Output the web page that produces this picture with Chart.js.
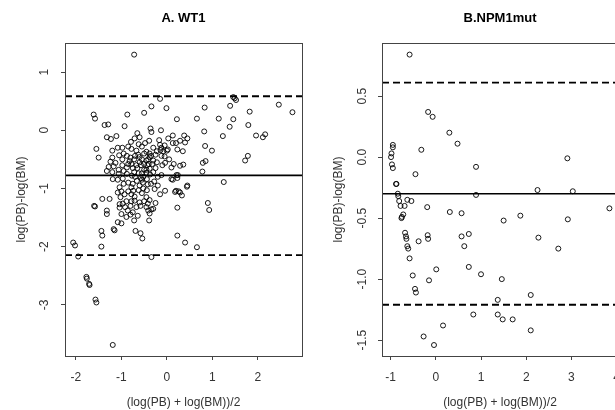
<!DOCTYPE html>
<html lang="en">
<head>
<meta charset="UTF-8">
<title>Bland-Altman: WT1 and NPM1mut</title>
<script src="https://cdn.jsdelivr.net/npm/chart.js"></script>
<style>
    html, body {
        margin: 0;
        padding: 0;
        background: #fff;
        overflow: hidden;
    }
    body {
        width: 615px;
        height: 410px;
        position: relative;
    }
    canvas {
        position: absolute;
        top: 0;
    }
    #chartA { left: 0; }
    #chartB { left: 305px; }
</style>
</head>
<body>
<canvas id="chartA" width="310" height="410"></canvas>
<canvas id="chartB" width="330" height="410"></canvas>
<script>
// A. WT1 -- x: (log(PB)+log(BM))/2, y: log(PB)-log(BM)
const wt1Avg = [
    -0.72, -0.15, -0.01, -0.34, -0.50, -0.87, -1.61, -1.58, -1.37, -1.29,
    -0.93, -1.11, -1.32, -1.23, -1.55, -1.50, -0.36, -0.34, -0.13, 0.22,
    0.83, 0.66, 0.82, 0.84, 0.99, 1.14, 1.23, 1.38, 1.39, 1.46,
    1.46, 1.49, 1.52, 1.82, 1.79, 1.96, 2.11, 2.16, 2.46, 2.76,
    1.78, 1.72, 0.85, 0.79, 0.78, 1.25, 0.90, 0.93, 0.23, -0.65,
    -0.60, -0.71, -0.79, -0.39, -0.17, 0.03, 0.13, 0.29, 0.38, 0.45,
    0.40, -0.15, -0.12, -0.05, 0.02, -0.08, -0.14, 0.00, 0.13, 0.20,
    0.23, 0.35, -0.67, -0.63, -0.60, -0.50, -0.45, -0.38, -0.38, -0.41,
    -0.35, -1.20, -1.08, -0.98, -1.05, -0.98, -1.20, -1.24, -1.13, -0.12,
    -0.04, 0.10, 0.29, 0.36, 0.21, 0.24, 0.10, 0.23, -0.82, -0.85,
    -0.78, -0.67, -0.60, -0.57, -0.50, -0.43, -0.40, -0.45, -1.28, -1.17,
    -1.06, -0.95, -0.88, -1.06, -1.20, -1.32, -0.72, -0.62, -0.52, -0.45,
    -0.37, -0.57, -0.70, -0.77, -0.12, -1.19, -1.08, -0.97, -0.66, -0.55,
    -0.44, -0.42, -0.53, -0.60, 0.13, 0.45, 0.44, -1.04, -1.08, -1.00,
    -0.93, -0.78, -0.74, -0.78, -0.71, -0.52, -0.44, -0.27, -0.04, 0.20,
    0.29, 0.33, 0.26, 0.18, -1.42, -1.26, -1.04, -1.04, -0.97, -0.89,
    -0.78, -0.71, -0.60, -0.86, -0.75, -0.64, -0.89, -1.00, -0.41, -0.38,
    -0.34, -0.39, -1.32, -1.32, -1.08, -1.00, -1.17, -1.15, -0.69, -0.58,
    -0.54, 0.23, 0.40, 0.66, -1.44, -1.42, -1.44, -2.06, -2.02, -1.95,
    -1.77, -1.76, -1.71, -1.70, -1.57, -1.55, -1.19, -0.34, -1.60, -1.58,
    -0.95, -0.88, -0.80, -0.72, -0.70, -0.55, -0.30, -0.32, -0.25, -0.22,
    -0.38, -0.45, -0.30, -0.20, -0.10, -0.28, -0.35, -0.20, -0.62, -0.55,
    -0.45, -0.38, -0.50, -0.58, -0.67, -0.80, -0.92, -1.02, -0.85, -0.95,
    -0.85, -0.75, -0.65, -0.75, -0.88, -0.98, -0.50, -0.55, -0.25, -0.30,
    -0.22, -0.55, -0.78, -0.85, -0.62, -0.48, -0.05, 0.05, 0.15, -0.15,
    -0.25, -0.30, -0.45, -0.42, -0.72, -0.80
];
const wt1Diff = [
    1.30, 0.54, 0.38, 0.41, 0.30, 0.27, 0.27, 0.20, 0.09, 0.10,
    0.07, -0.10, -0.12, -0.15, -0.32, -0.47, 0.03, -0.03, 0.00, 0.19,
    0.39, 0.20, -0.02, -0.27, -0.35, 0.20, -0.10, 0.06, 0.42, 0.19,
    0.57, 0.55, 0.52, 0.32, 0.09, -0.09, -0.12, -0.07, 0.44, 0.31,
    -0.44, -0.52, -0.53, -0.56, -0.71, -0.89, -1.25, -1.37, -1.33, -0.05,
    -0.12, -0.14, -0.20, -0.18, -0.17, -0.14, -0.09, -0.18, -0.09, -0.14,
    -0.21, -0.25, -0.30, -0.26, -0.33, -0.36, -0.34, -0.35, -0.22, -0.22,
    -0.33, -0.36, -0.35, -0.42, -0.46, -0.40, -0.37, -0.40, -0.46, -0.50,
    -0.44, -0.35, -0.30, -0.30, -0.43, -0.50, -0.47, -0.54, -0.56, -0.44,
    -0.56, -0.64, -0.61, -0.59, -0.77, -0.77, -0.84, -0.82, -0.53, -0.58,
    -0.58, -0.60, -0.55, -0.60, -0.58, -0.60, -0.58, -0.52, -0.63, -0.62,
    -0.68, -0.70, -0.75, -0.75, -0.72, -0.70, -0.72, -0.74, -0.80, -0.73,
    -0.76, -0.82, -0.80, -0.78, -0.77, -0.84, -0.85, -0.83, -0.87, -0.85,
    -0.84, -0.93, -0.90, -0.95, -0.85, -0.95, -0.97, -0.98, -1.07, -1.05,
    -1.10, -0.98, -1.04, -1.10, -1.14, -1.00, -1.03, -1.01, -1.04, -1.04,
    -1.07, -1.12, -1.05, -1.06, -1.18, -1.18, -1.27, -1.33, -1.26, -1.22,
    -1.22, -1.21, -1.24, -1.38, -1.41, -1.47, -1.49, -1.44, -1.38, -1.43,
    -1.36, -1.55, -1.38, -1.44, -1.58, -1.60, -1.70, -1.72, -1.73, -1.77,
    -1.86, -1.81, -1.93, -2.01, -1.73, -1.81, -2.00, -1.93, -1.98, -2.17,
    -2.52, -2.55, -2.64, -2.66, -2.91, -2.96, -3.69, -2.18, -1.30, -1.31,
    -0.40, -0.44, -0.47, -0.50, -0.44, -0.50, -0.52, -0.58, -0.65, -0.55,
    -0.66, -0.68, -0.72, -0.80, -0.60, -0.88, -0.92, -0.95, -1.03, -1.08,
    -1.15, -1.20, -1.22, -1.30, -1.32, -1.30, -1.32, -1.15, -1.05, -0.92,
    -0.90, -0.92, -0.65, -0.65, -0.64, -0.60, -0.68, -0.74, -0.42, -0.30,
    -0.36, -0.28, -0.32, -0.28, -0.24, -0.22, -0.45, -0.50, -0.58, -1.10,
    -1.25, -1.35, -1.32, -1.26, -1.55, -1.45
];
// mean difference, upper and lower limits of agreement
const wt1Lines = [-0.776, 0.585, -2.146];
const wt1XRange = [-2.24, 2.97];
const wt1YRange = [-3.88, 1.50];

// B. NPM1mut
const npmAvg = [
    -0.58, -0.17, -0.07, 0.30, 0.48, -0.32, 0.89, 2.91, -0.45, -0.95,
    -0.95, -0.98, -0.99, -0.97, -0.95, -0.88, -0.87, -0.84, -0.83, -0.81,
    -0.78, -0.69, -0.63, -0.54, -0.76, -0.75, -0.72, -0.68, -0.66, -0.65,
    -0.63, -0.61, -0.58, -0.38, -0.19, -0.18, -0.17, -0.51, -0.46, -0.44,
    -0.15, 0.01, 0.31, 0.57, 0.57, 0.63, 0.73, 0.73, 0.89, 1.00,
    1.50, 1.46, 1.87, 1.37, 2.10, 2.25, 2.27, 2.71, 2.92, 3.03,
    3.84, 0.83, 1.37, 1.48, 1.70, 2.10, 0.16, -0.27, -0.04
];
const npmDiff = [
    0.84, 0.37, 0.33, 0.20, 0.11, 0.06, -0.08, -0.01, -0.14, 0.10,
    0.08, 0.03, 0.00, -0.06, -0.09, -0.22, -0.22, -0.30, -0.32, -0.36,
    -0.40, -0.40, -0.35, -0.36, -0.50, -0.49, -0.47, -0.62, -0.65, -0.67,
    -0.73, -0.75, -0.83, -0.69, -0.41, -0.64, -0.67, -0.97, -1.08, -1.11,
    -1.01, -0.92, -0.45, -0.46, -0.65, -0.73, -0.63, -0.90, -0.31, -0.96,
    -0.52, -1.00, -0.48, -1.17, -1.13, -0.27, -0.66, -0.75, -0.51, -0.28,
    -0.42, -1.29, -1.29, -1.33, -1.33, -1.42, -1.38, -1.47, -1.54
];
const npmLines = [-0.30, 0.61, -1.21];
const npmXRange = [-1.19, 4.03];
const npmYRange = [-1.63, 0.935];

Chart.defaults.font.family = "'Liberation Sans', Arial, sans-serif";
Chart.defaults.font.size = 12;
Chart.defaults.color = '#333';

// R-style box around the plotting region
const boxPlugin = {
    id: 'plotBox',
    afterDatasetsDraw(chart) {
        const a = chart.chartArea;
        const ctx = chart.ctx;
        ctx.save();
        ctx.strokeStyle = '#444';
        ctx.lineWidth = 1;
        ctx.strokeRect(Math.round(a.left) + 0.5, Math.round(a.top) + 0.5,
            Math.round(a.right - a.left), Math.round(a.bottom - a.top));
        ctx.restore();
    }
};

function makePanel(id, title, xs, ys, lines, xRange, yRange, p) {
    const pts = xs.map((x, i) => ({ x: x, y: ys[i] }));
    const hline = y => [{ x: xRange[0], y: y }, { x: xRange[1], y: y }];
    const dashed = { type: 'line', borderColor: '#000', borderWidth: 1.8, borderDash: [7, 4], pointRadius: 0 };

    return new Chart(document.getElementById(id), {
        type: 'scatter',
        data: {
            datasets: [
                {
                    data: pts,
                    pointStyle: 'circle',
                    pointRadius: 2.5,
                    borderWidth: 0.9,
                    borderColor: '#000',
                    backgroundColor: 'rgba(0,0,0,0)'
                },
                { type: 'line', data: hline(lines[0]), borderColor: '#000', borderWidth: 1.6, pointRadius: 0 },
                Object.assign({ data: hline(lines[1]) }, dashed),
                Object.assign({ data: hline(lines[2]) }, dashed)
            ]
        },
        options: {
            responsive: false,
            animation: false,
            layout: { padding: { left: 0, right: p.right, top: 0, bottom: 0 } },
            plugins: {
                legend: { display: false },
                tooltip: { enabled: false },
                title: {
                    display: true,
                    text: title,
                    fullSize: false,
                    color: '#000',
                    font: { size: 13, weight: 'bold' },
                    padding: { top: 10.5, bottom: 16.9 }
                }
            },
            scales: {
                x: {
                    type: 'linear',
                    min: xRange[0],
                    max: xRange[1],
                    border: { display: true, color: '#444' },
                    grid: { drawOnChartArea: false, drawTicks: true, tickLength: 4, color: '#444' },
                    ticks: { stepSize: 1, includeBounds: false, autoSkip: false, maxRotation: 0, padding: 10.8 },
                    title: { display: true, text: '(log(PB) + log(BM))/2', padding: { top: 0, bottom: 0 } },
                    afterFit: s => { s.height = 54; }
                },
                y: {
                    type: 'linear',
                    min: yRange[0],
                    max: yRange[1],
                    border: { display: true, color: '#444' },
                    grid: { drawOnChartArea: false, drawTicks: true, tickLength: 4, color: '#444' },
                    ticks: {
                        stepSize: p.yStep,
                        includeBounds: false,
                        autoSkip: false,
                        minRotation: 90,
                        maxRotation: 90,
                        crossAlign: 'center',
                        padding: p.yPad,
                        callback: v => v.toFixed(p.digits)
                    },
                    title: { display: true, text: 'log(PB)-log(BM)', padding: { top: p.titlePad, bottom: 0 } },
                    afterFit: s => { s.width = p.left; }
                }
            }
        },
        plugins: [boxPlugin]
    });
}

makePanel('chartA', 'A. WT1', wt1Avg, wt1Diff, wt1Lines, wt1XRange, wt1YRange,
    { left: 65, right: 8, yStep: 1, yPad: 10.6, digits: 0, titlePad: 14.5 });
makePanel('chartB', 'B.NPM1mut', npmAvg, npmDiff, npmLines, npmXRange, npmYRange,
    { left: 77, right: 17, yStep: 0.5, yPad: 4.6, digits: 1, titlePad: 26 });
</script>
</body>
</html>
